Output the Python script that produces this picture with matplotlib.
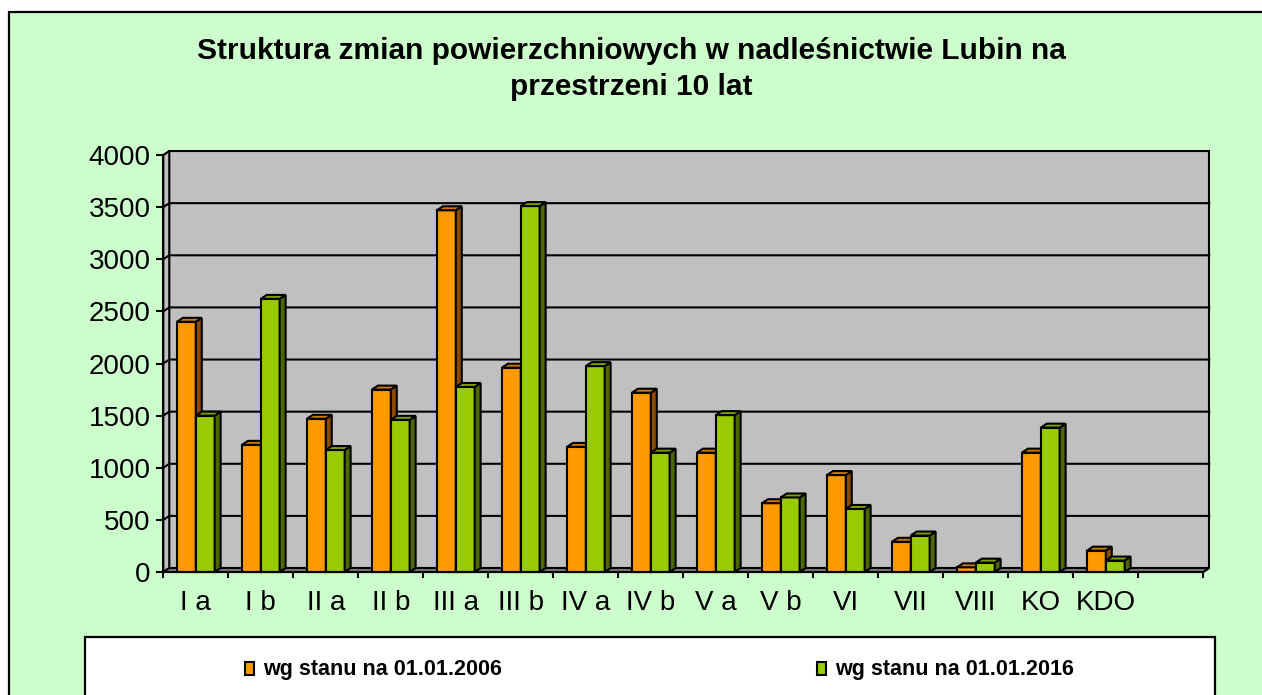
import matplotlib
matplotlib.use('Agg')
import matplotlib.pyplot as plt
from matplotlib.patches import Polygon, Rectangle

# ---- data ----
categories = ['I a', 'I b', 'II a', 'II b', 'III a', 'III b', 'IV a', 'IV b',
              'V a', 'V b', 'VI', 'VII', 'VIII', 'KO', 'KDO', '']
values_2006 = [2400, 1220, 1470, 1750, 3470, 1960, 1200, 1720, 1145, 660,
               930, 290, 45, 1145, 205]
values_2016 = [1500, 2620, 1170, 1460, 1775, 3510, 1975, 1145, 1505, 715,
               605, 350, 90, 1385, 110]
series_labels = ['wg stanu na 01.01.2006', 'wg stanu na 01.01.2016']
yticks = [0, 500, 1000, 1500, 2000, 2500, 3000, 3500, 4000]
title = 'Struktura zmian powierzchniowych w nadleśnictwie Lubin na\nprzestrzeni 10 lat'

plt.rcParams['font.family'] = ['Liberation Sans', 'DejaVu Sans']

W, H = 1262, 695
fig = plt.figure(figsize=(W / 100, H / 100), dpi=100)
fig.patch.set_facecolor('white')

def fx(px):
    return px / W

def fy(py):
    return 1 - py / H

# outer chart area
fig.patches.append(Rectangle((fx(9), fy(H + 10)), fx(W + 20) - fx(9), fy(12) - fy(H + 10),
                             transform=fig.transFigure, facecolor='#CCFFCC',
                             edgecolor='black', linewidth=1.6, zorder=-3))

# plot area
left_px, right_px, top_px, bot_px = 163.3, 1203.3, 155, 572
ax = fig.add_axes([fx(left_px), fy(bot_px), fx(right_px) - fx(left_px), fy(top_px) - fy(bot_px)])
ax.set_zorder(5)
ax.set_facecolor('none')
ax.set_xlim(-0.5, len(categories) - 0.5)
ax.set_ylim(0, 4000)

DX = 0.092   # depth offset (category units)
DY = 38      # depth offset (value units)
x0, x1 = -0.5, len(categories) - 0.5
ymax = 4000
lw = 1.5

# back wall
ax.add_patch(Polygon([(x0 + DX, DY), (x1 + DX, DY), (x1 + DX, ymax + DY), (x0 + DX, ymax + DY)],
                     closed=True, facecolor='#C0C0C0', edgecolor='black', linewidth=lw,
                     clip_on=False, zorder=1))
# left wall
ax.add_patch(Polygon([(x0, 0), (x0 + DX, DY), (x0 + DX, ymax + DY), (x0, ymax)],
                     closed=True, facecolor='#C0C0C0', edgecolor='black', linewidth=lw,
                     clip_on=False, zorder=1))
# floor
ax.add_patch(Polygon([(x0, 0), (x1, 0), (x1 + DX, DY), (x0 + DX, DY)],
                     closed=True, facecolor='#808080', edgecolor='black', linewidth=lw,
                     clip_on=False, zorder=2))
# gridlines
for yv in yticks[1:-1]:
    ax.plot([x0, x0 + DX, x1 + DX], [yv, yv + DY, yv + DY], color='black',
            linewidth=lw, clip_on=False, zorder=2)

bw = 0.29
specs = [
    (values_2006, -0.145, '#FF9900', '#CC7A00', '#8C4A00'),
    (values_2016, 0.145, '#99CC00', '#7AA300', '#4C6600'),
]
z = 3
for i in range(len(values_2006)):
    for vals, off, cf, ct, cs in specs:
        h = vals[i]
        bars = ax.bar(i + off, h, width=bw, color=cf, edgecolor='black',
                      linewidth=lw, zorder=z, clip_on=False)
        r = bars[0]
        bx0, bx1 = r.get_x(), r.get_x() + r.get_width()
        ax.add_patch(Polygon([(bx1, 0), (bx1, h), (bx1 + DX, h + DY), (bx1 + DX, DY)],
                             closed=True, facecolor=cs, edgecolor='black', linewidth=lw,
                             zorder=z, clip_on=False))
        ax.add_patch(Polygon([(bx0, h), (bx0 + DX, h + DY), (bx1 + DX, h + DY), (bx1, h)],
                             closed=True, facecolor=ct, edgecolor='black', linewidth=lw,
                             zorder=z, clip_on=False))
        z += 1

# axes styling
for s in ['top', 'right']:
    ax.spines[s].set_visible(False)
for s in ['left', 'bottom']:
    ax.spines[s].set_linewidth(lw)
    ax.spines[s].set_zorder(50)
ax.set_yticks(yticks)
ax.set_yticklabels([str(v) for v in yticks])
ax.tick_params(axis='y', direction='out', length=5, width=lw, labelsize=20, pad=4)
ax.set_xticks(range(len(categories)))
ax.set_xticklabels(categories)
ax.set_xticks([k - 0.5 for k in range(len(categories) + 1)], minor=True)
ax.tick_params(axis='x', which='major', length=0, labelsize=20, pad=13)
ax.tick_params(axis='x', which='minor', direction='out', length=4.5, width=lw)

# title
fig.text(0.5, fy(69), title, ha='center', va='center', fontsize=21.5,
         fontweight='bold', linespacing=1.38)

# legend box
fig.patches.append(Rectangle((fx(85), fy(H + 10)), fx(1215) - fx(85), fy(637) - fy(H + 10),
                             transform=fig.transFigure, facecolor='white',
                             edgecolor='black', linewidth=1.6, zorder=-2))
legend_x = [245, 817]
legend_cols = ['#FF9900', '#99CC00']
for lx, lab, c in zip(legend_x, series_labels, legend_cols):
    fig.patches.append(Rectangle((fx(lx), fy(675)), fx(9), fy(662) - fy(675),
                                 transform=fig.transFigure, facecolor=c,
                                 edgecolor='black', linewidth=1.5, zorder=-1))
    fig.text(fx(lx + 18), fy(669), lab, ha='left', va='center', fontsize=15.5,
             fontweight='bold')

fig.savefig('out.png', dpi=100, facecolor=fig.get_facecolor())
